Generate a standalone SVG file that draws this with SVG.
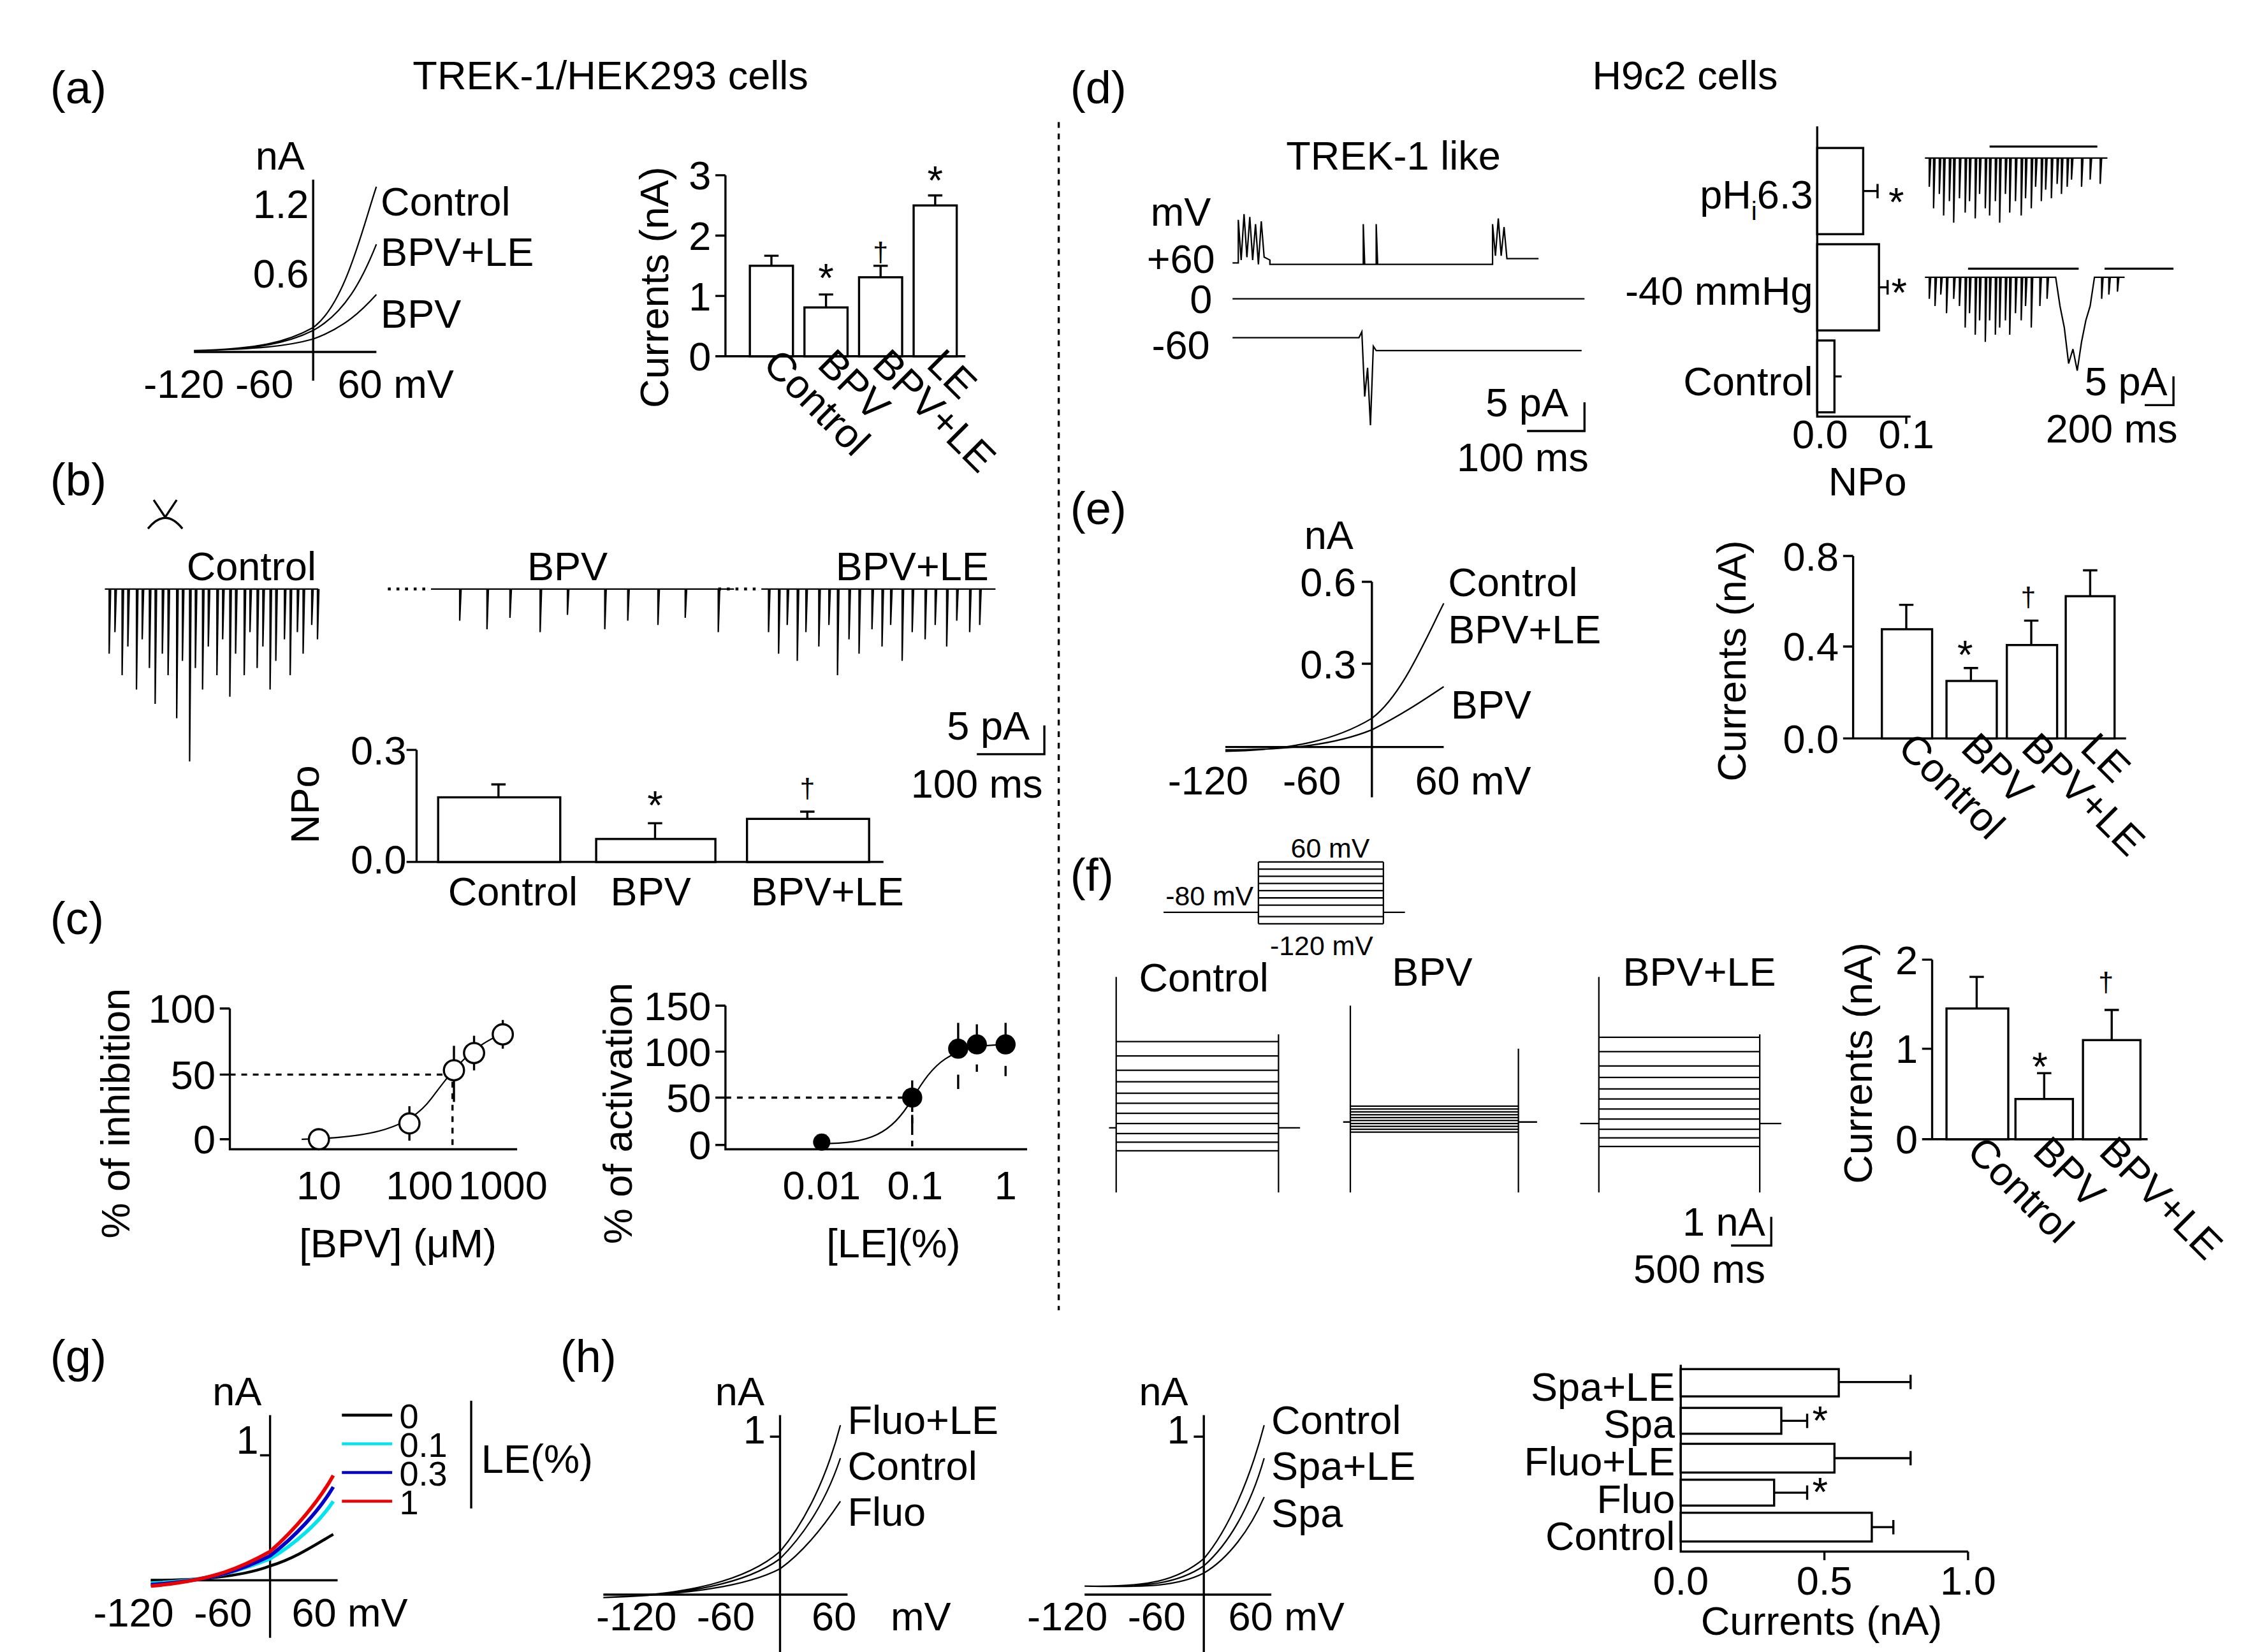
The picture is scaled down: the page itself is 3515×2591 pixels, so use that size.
<svg xmlns="http://www.w3.org/2000/svg" width="3515" height="2591" viewBox="0 0 3515 2591">
<style>
text{font-family:"Liberation Sans",Arial,sans-serif;fill:#000}
.l{font-size:32px}.t{font-size:28px}.s{font-size:19px}.g{font-size:24px}
.ax,.bar,.tr,.eb{fill:none;stroke:#000;stroke-width:1.5}
.bar{fill:#fff}
.tr{stroke-width:1}
.dash{fill:none;stroke:#000;stroke-width:1.5;stroke-dasharray:4 4}
.dot{fill:none;stroke:#000;stroke-width:2;stroke-dasharray:2 4}
.e{text-anchor:end}.m{text-anchor:middle}
</style>
<rect width="3515" height="2591" fill="#fff"/>
<g transform="scale(2.2532)">
<g id="divider"><line x1="737" y1="85" x2="737" y2="912" class="dash"/></g>

<g id="panel-a">
<text x="35" y="72" class="l">(a)</text>
<text x="425" y="62" class="t m">TREK-1/HEK293 cells</text>
<path class="ax" d="M218 125V265M135 245H262"/>
<text x="195" y="118" class="t m">nA</text>
<text x="215" y="152" class="t e">1.2</text>
<text x="215" y="200" class="t e">0.6</text>
<text x="100" y="277" class="t">-120 -60</text><text x="235" y="277" class="t">60 mV</text>
<path class="tr" d="M135 244C180 243 200 238 218 228C240 212 252 160 262 130M135 244C180 243 200 239 218 230C240 218 252 195 262 170M135 244C180 243 200 241 218 236C240 228 252 216 262 205"/>
<text x="265" y="150" class="t">Control</text><text x="265" y="185" class="t">BPV+LE</text><text x="265" y="228" class="t">BPV</text>
<path class="ax" d="M505 122V248H672M498 122h7M498 164h7M498 206h7M498 248h7"/>
<text x="495" y="132" class="t e">3</text><text x="495" y="174" class="t e">2</text><text x="495" y="216" class="t e">1</text><text x="495" y="258" class="t e">0</text>
<rect class="bar" x="522" y="185" width="30" height="63"/><rect class="bar" x="560" y="214" width="30" height="34"/><rect class="bar" x="598" y="193" width="30" height="55"/><rect class="bar" x="636" y="143" width="30" height="105"/>
<path class="eb" d="M537 185v-7m-5 0h10M575 214v-9m-5 0h10M613 193v-8m-5 0h10M651 143v-7m-5 0h10"/>
<text x="575" y="203" class="t m">*</text><text x="613" y="182" class="s m">†</text><text x="651" y="135" class="t m">*</text>
<text transform="translate(465,200) rotate(-90)" class="t m">Currents (nA)</text>
<text transform="translate(530,255) rotate(45)" class="t">Control</text>
<text transform="translate(568,255) rotate(45)" class="t">BPV</text>
<text transform="translate(606,255) rotate(45)" class="t">BPV+LE</text>
<text transform="translate(644,255) rotate(45)" class="t">LE</text>
</g>

<g id="panel-b">
<text x="35" y="345" class="l">(b)</text>
<path class="ax" d="M103 368q12 -15 24 0M115 360l-8 -12M115 360l8 -12"/>
<text x="175" y="404" class="t m">Control</text><text x="395" y="404" class="t m">BPV</text><text x="635" y="404" class="t m">BPV+LE</text>
<path class="tr" d="M73 410h3v45l1-45h3v30l1-30h4v60l1-60h3v40l1-40h5v70l1-70h3v35l1-35h4v55l1-55h3v80l1-80h4v45l1-45h3v60l1-60h5v90l1-90h3v50l1-50h4v120l1-120h3v55l1-55h4v70l1-70h3v40l1-40h5v60l1-60h3v35l1-35h4v75l1-75h3v45l1-45h5v60l1-60h3v30l1-30h4v55l1-55h3v40l1-40h4v70l1-70h3v50l1-50h5v35l1-35h3v60l1-60h4v30l1-30h3v45l1-45h5v25l1-25h3v35l1-35"/>
<line x1="270" y1="410" x2="300" y2="410" class="dot"/>
<path class="tr" d="M300 410h20v22l1-22h18v28l1-28h15v20l1-20h20v30l1-30h18v18l1-18h25v28l1-28h15v22l1-22h20v25l1-25h18v20l1-20h22v30l1-30h10"/>
<line x1="500" y1="410" x2="530" y2="410" class="dot"/>
<path class="tr" d="M530 410h5v30l1-30h6v45l1-45h5v25l1-25h6v50l1-50h5v30l1-30h8v40l1-40h6v25l1-25h5v60l1-60h7v35l1-35h6v45l1-45h8v28l1-28h6v40l1-40h5v25l1-25h7v50l1-50h6v30l1-30h8v35l1-35h6v25l1-25h7v40l1-40h6v22l1-22h8v30l1-30h6v25l1-25h10"/>
<path class="ax" d="M727 505v20h-47"/>
<text x="688" y="515" class="t m">5 pA</text><text x="680" y="555" class="t m">100 ms</text>
<path class="ax" d="M290 522V600H615M283 522h7M283 600h7"/>
<text x="283" y="532" class="t e">0.3</text><text x="283" y="608" class="t e">0.0</text>
<text transform="translate(222,560) rotate(-90)" class="t m">NPo</text>
<rect class="bar" x="305" y="555" width="85" height="45"/><rect class="bar" x="415" y="584" width="83" height="16"/><rect class="bar" x="520" y="570" width="85" height="30"/>
<path class="eb" d="M347 555v-9m-5 0h10M456 584v-11m-5 0h10M562 570v-5m-5 0h10"/>
<text x="456" y="570" class="t m">*</text><text x="562" y="555" class="s m">†</text>
<text x="357" y="630" class="t m">Control</text><text x="453" y="630" class="t m">BPV</text><text x="576" y="630" class="t m">BPV+LE</text>
</g>

<g id="panel-c">
<text x="35" y="650" class="l">(c)</text>
<path class="ax" d="M160 702V800H360M153 702h7M153 748h7M153 793h7"/>
<text x="150" y="712" class="t e">100</text><text x="150" y="758" class="t e">50</text><text x="150" y="803" class="t e">0</text>
<text x="222" y="835" class="t m">10</text><text x="292" y="835" class="t m">100</text><text x="350" y="835" class="t m">1000</text>
<path class="dash" d="M160 748H315V800"/>
<path class="tr" d="M210 793C260 792 285 785 300 765C315 745 330 725 355 718"/>
<g class="bar"><circle cx="222" cy="793" r="7"/><circle cx="285" cy="782" r="7"/><circle cx="316" cy="745" r="7"/><circle cx="330" cy="733" r="7"/><circle cx="350" cy="720" r="7"/></g>
<path class="eb" d="M285 775v-5m0 19v5M316 738v-10m0 24v15M330 726v-5m0 19v5M350 713v-3m0 17v3"/>
<text transform="translate(90,775) rotate(-90)" class="t m">% of inhibition</text>
<text x="277" y="875" class="t m">[BPV] (μM)</text>
<path class="ax" d="M505 700V800H715M498 700h7M498 732h7M498 764h7M498 797h7"/>
<text x="495" y="710" class="t e">150</text><text x="495" y="742" class="t e">100</text><text x="495" y="774" class="t e">50</text><text x="495" y="807" class="t e">0</text>
<text x="572" y="835" class="t m">0.01</text><text x="637" y="835" class="t m">0.1</text><text x="700" y="835" class="t m">1</text>
<path class="dash" d="M505 764H635V800"/>
<path class="tr" d="M572 796C605 796 620 790 635 765C650 740 660 728 700 727"/>
<g><circle cx="572" cy="795" r="6"/><circle cx="635" cy="764" r="7"/><circle cx="667" cy="730" r="7"/><circle cx="680" cy="727" r="7"/><circle cx="700" cy="727" r="7"/></g>
<path class="eb" d="M635 764v-12m0 24v10M667 730v-18m0 36v10M680 727v-14m0 28v5M700 727v-15m0 30v7"/>
<text transform="translate(440,775) rotate(-90)" class="t m">% of activation</text>
<text x="622" y="875" class="t m">[LE](%)</text>
</g>

<g id="panel-d">
<text x="745" y="72" class="l">(d)</text>
<text x="1173" y="62" class="t m">H9c2 cells</text>
<text x="970" y="118" class="t m">TREK-1 like</text>
<text x="822" y="157" class="t m">mV</text><text x="822" y="190" class="t m">+60</text><text x="836" y="218" class="t m">0</text><text x="822" y="250" class="t m">-60</text>
<path class="tr" d="M858 183h4v-30l2 28 2-32 2 30 2-28 2 30 2-25 2 28 2-30 2 25 4 2v3h65v-28l1 28h8v-28l1 28h80v-28l2 22 2-26 2 26 2-20 2 22h22M858 208h245M858 235h88l2-4 2 45 2-20 2 40 2-55 2 3h143"/>
<path class="ax" d="M1103 280v20h-40"/>
<text x="1063" y="290" class="t m">5 pA</text><text x="1060" y="328" class="t m">100 ms</text>
<path class="ax" d="M1265 88V290H1330M1327 290v5"/>
<rect class="bar" x="1265" y="103" width="32" height="60"/><rect class="bar" x="1265" y="170" width="43" height="60"/><rect class="bar" x="1265" y="237" width="12" height="50"/>
<path class="eb" d="M1297 133h10m0-5v10M1308 200h6m0-5v10M1277 262h5"/>
<text x="1320" y="150" class="t m">*</text><text x="1322" y="213" class="t m">*</text>
<text x="1262" y="145" class="t e">pH<tspan font-size="18" dy="8">i</tspan><tspan dy="-8">6.3</tspan></text>
<text x="1262" y="212" class="t e">-40 mmHg</text><text x="1262" y="275" class="t e">Control</text>
<text x="1267" y="312" class="t m">0.0</text><text x="1327" y="312" class="t m">0.1</text><text x="1300" y="345" class="t m">NPo</text>
<path class="ax" d="M1385 102H1460M1370 187H1447M1465 187H1513"/>
<path class="tr" d="M1340 110h3v20l1-20h2v35l1-35h3v25l1-25h2v40l1-40h3v30l1-30h2v45l1-45h3v28l1-28h3v38l1-38h2v30l1-30h3v42l1-42h2v25l1-25h3v35l1-35h2v40l1-40h3v30l1-30h2v45l1-45h3v25l1-25h2v38l1-38h3v30l1-30h3v40l1-40h2v28l1-28h3v35l1-35h2v20l1-20h3v30l1-30h2v22l1-22h3v28l1-28h3v18l1-18h2v25l1-25h3v20l1-20h2v15l1-15h6v20l1-20h5v15l1-15h6v18l1-18h4"/>
<path class="tr" d="M1340 193h3v15l1-15h3v20l1-20h3v12l1-12h3v25l1-25h4v15l1-15h3v20l1-20h3v35l1-35h2v25l1-25h3v40l1-40h2v30l1-30h3v45l1-45h2v30l1-30h3v40l1-40h2v35l1-35h3v30l1-30h2v40l1-40h3v25l1-25h3v30l1-30h2v20l1-20h3v35l1-35h5v20l1-20h4v15l1-15h5l3 20 3 15 3 25 3-10 3 15 3-20 3-15 3-10 3-20h5v15l1-15h4v12l1-12h5v10l1-10h4"/>
<path class="ax" d="M1513 262v20h-20"/>
<text x="1480" y="275" class="t m">5 pA</text><text x="1470" y="308" class="t m">200 ms</text>
</g>

<g id="panel-e">
<text x="745" y="365" class="l">(e)</text>
<path class="ax" d="M955 405V555M853 520H1005M948 405h7M948 462h7"/>
<text x="925" y="382" class="t m">nA</text><text x="944" y="415" class="t e">0.6</text><text x="944" y="472" class="t e">0.3</text>
<text x="813" y="553" class="t">-120</text><text x="893" y="553" class="t">-60</text><text x="985" y="553" class="t">60 mV</text>
<path class="tr" d="M853 523C900 522 930 515 955 500C975 485 990 450 1005 420M853 522C900 522 930 518 955 508C975 498 990 488 1005 478"/>
<text x="1008" y="415" class="t">Control</text><text x="1008" y="448" class="t">BPV+LE</text><text x="1010" y="500" class="t">BPV</text>
<path class="ax" d="M1290 387V514H1480M1283 387h7M1283 450h7M1283 514h7"/>
<text x="1280" y="397" class="t e">0.8</text><text x="1280" y="460" class="t e">0.4</text><text x="1280" y="524" class="t e">0.0</text>
<rect class="bar" x="1310" y="438" width="35" height="76"/><rect class="bar" x="1355" y="474" width="35" height="40"/><rect class="bar" x="1397" y="449" width="35" height="65"/><rect class="bar" x="1438" y="415" width="34" height="99"/>
<path class="eb" d="M1327 438v-17m-5 0h10M1372 474v-9m-5 0h10M1414 449v-17m-5 0h10M1455 415v-18m-5 0h10"/>
<text x="1368" y="465" class="t m">*</text><text x="1412" y="422" class="s m">†</text>
<text transform="translate(1215,460) rotate(-90)" class="t m">Currents (nA)</text>
<text transform="translate(1320,522) rotate(45)" class="t">Control</text>
<text transform="translate(1364,522) rotate(45)" class="t">BPV</text>
<text transform="translate(1406,522) rotate(45)" class="t">BPV+LE</text>
<text transform="translate(1447,522) rotate(45)" class="t">LE</text>
</g>

<g id="panel-f">
<text x="745" y="620" class="l">(f)</text>
<text x="926" y="597" class="s m">60 mV</text><text x="842" y="630" class="s m">-80 mV</text><text x="920" y="665" class="s m">-120 mV</text>
<path class="tr" d="M810 635H876M963 635H978M876 600V643M963 600V643M876 600H963M876 605H963M876 610H963M876 615H963M876 620H963M876 625H963M876 630H963M876 638H963M876 643H963"/>
<text x="838" y="690" class="t m">Control</text><text x="997" y="686" class="t m">BPV</text><text x="1183" y="686" class="t m">BPV+LE</text>
<path class="tr" d="M777 680V830M890 720V830M772 785H777M777 725H890M777 735H890M777 745H890M777 753H890M777 761H890M777 768H890M777 775H890M777 782H890M777 789H890M777 795H890M777 801H890M890 785H905"/>
<path class="tr" d="M940 700V830M1057 730V830M935 781H940M940 770H1057M940 772H1057M940 774H1057M940 776H1057M940 778H1057M940 780H1057M940 782H1057M940 784H1057M940 786H1057M940 788H1057M1057 781H1070"/>
<path class="tr" d="M1113 680V830M1225 720V830M1100 782H1113M1113 722H1225M1113 732H1225M1113 742H1225M1113 750H1225M1113 758H1225M1113 765H1225M1113 772H1225M1113 779H1225M1113 786H1225M1113 792H1225M1113 798H1225M1225 782H1240"/>
<path class="ax" d="M1233 847v20h-28"/>
<text x="1200" y="860" class="t m">1 nA</text><text x="1183" y="893" class="t m">500 ms</text>
<path class="ax" d="M1345 668V793H1495M1338 668h7M1338 730h7M1338 793h7"/>
<text x="1335" y="678" class="t e">2</text><text x="1335" y="740" class="t e">1</text><text x="1335" y="803" class="t e">0</text>
<rect class="bar" x="1355" y="702" width="43" height="91"/><rect class="bar" x="1403" y="765" width="40" height="28"/><rect class="bar" x="1450" y="724" width="40" height="69"/>
<path class="eb" d="M1376 702v-22m-5 0h10M1423 765v-18m-5 0h10M1470 724v-21m-5 0h10"/>
<text x="1420" y="752" class="t m">*</text><text x="1466" y="690" class="s m">†</text>
<text transform="translate(1303,740) rotate(-90)" class="t m">Currents (nA)</text>
<text transform="translate(1368,803) rotate(45)" class="t">Control</text>
<text transform="translate(1414,803) rotate(45)" class="t">BPV</text>
<text transform="translate(1460,803) rotate(45)" class="t">BPV+LE</text>
</g>

<g id="panel-g">
<text x="35" y="955" class="l">(g)</text>
<path class="ax" d="M188 985V1140M105 1100H235M181 1013h7"/>
<text x="165" y="978" class="t m">nA</text><text x="180" y="1012" class="t e">1</text>
<text x="65" y="1132" class="t">-120</text><text x="135" y="1132" class="t">-60</text><text x="203" y="1132" class="t">60 mV</text>
<path fill="none" stroke="#000" stroke-width="2" d="M105 1100C150 1100 175 1095 188 1090C205 1085 220 1075 232 1068"/>
<path fill="none" stroke="#00e5ee" stroke-width="2.5" d="M105 1102C150 1100 170 1092 188 1085C205 1075 222 1060 232 1045"/>
<path fill="none" stroke="#0000cc" stroke-width="2.5" d="M105 1103C150 1100 170 1092 188 1083C205 1070 222 1052 232 1035"/>
<path fill="none" stroke="#e00" stroke-width="2.5" d="M105 1104C150 1100 170 1090 188 1080C205 1065 222 1045 232 1027"/>
<line x1="238" y1="985" x2="273" y2="985" stroke="#000" stroke-width="2"/>
<line x1="238" y1="1005" x2="273" y2="1005" stroke="#00e5ee" stroke-width="2"/>
<line x1="238" y1="1025" x2="273" y2="1025" stroke="#0000cc" stroke-width="2"/>
<line x1="238" y1="1045" x2="273" y2="1045" stroke="#e00" stroke-width="2"/>
<text x="278" y="994" class="g">0</text><text x="278" y="1014" class="g">0.1</text><text x="278" y="1034" class="g">0.3</text><text x="278" y="1054" class="g">1</text>
<line x1="328" y1="975" x2="328" y2="1050" class="ax"/>
<text x="335" y="1025" class="t">LE(%)</text>
</g>

<g id="panel-h">
<text x="390" y="955" class="l">(h)</text>
<path class="ax" d="M543 985V1150M420 1110H590M536 1000h7"/>
<text x="515" y="978" class="t m">nA</text><text x="533" y="1005" class="t e">1</text>
<text x="415" y="1135" class="t">-120</text><text x="485" y="1135" class="t">-60</text><text x="565" y="1135" class="t">60</text><text x="620" y="1135" class="t">mV</text>
<path class="tr" d="M420 1112C480 1110 520 1100 543 1080C560 1060 575 1030 585 992M420 1112C480 1110 520 1102 543 1085C560 1068 575 1045 585 1015M420 1112C480 1110 520 1104 543 1092C560 1080 575 1060 585 1045"/>
<text x="590" y="998" class="t">Fluo+LE</text><text x="590" y="1030" class="t">Control</text><text x="590" y="1062" class="t">Fluo</text>
<path class="ax" d="M838 985V1150M755 1110H885M831 1000h7"/>
<text x="810" y="978" class="t m">nA</text><text x="828" y="1005" class="t e">1</text>
<text x="715" y="1135" class="t">-120</text><text x="785" y="1135" class="t">-60</text><text x="855" y="1135" class="t">60 mV</text>
<path class="tr" d="M755 1104C800 1105 820 1100 838 1085C855 1065 870 1030 880 992M755 1104C800 1105 820 1102 838 1090C855 1075 870 1050 880 1015M755 1104C800 1105 820 1104 838 1095C855 1085 870 1065 880 1042"/>
<text x="885" y="998" class="t">Control</text><text x="885" y="1030" class="t">Spa+LE</text><text x="885" y="1063" class="t">Spa</text>
<path class="ax" d="M1170 950V1080H1370M1270 1080v6M1370 1080v6"/>
<rect class="bar" x="1170" y="953" width="110" height="19"/><rect class="bar" x="1170" y="980" width="70" height="18"/><rect class="bar" x="1170" y="1005" width="107" height="20"/><rect class="bar" x="1170" y="1030" width="65" height="18"/><rect class="bar" x="1170" y="1053" width="133" height="20"/>
<path class="eb" d="M1280 962h50m0-5v10M1240 989h18m0-5v10M1277 1015h53m0-5v10M1235 1039h23m0-5v10M1303 1063h15m0-5v10"/>
<text x="1267" y="998" class="t m">*</text><text x="1267" y="1048" class="t m">*</text>
<text x="1166" y="975" class="t e">Spa+LE</text><text x="1166" y="1001" class="t e">Spa</text><text x="1166" y="1027" class="t e">Fluo+LE</text><text x="1166" y="1053" class="t e">Fluo</text><text x="1166" y="1079" class="t e">Control</text>
<text x="1170" y="1110" class="t m">0.0</text><text x="1270" y="1110" class="t m">0.5</text><text x="1370" y="1110" class="t m">1.0</text>
<text x="1268" y="1138" class="t m">Currents (nA)</text>
</g>
</g>
</svg>
